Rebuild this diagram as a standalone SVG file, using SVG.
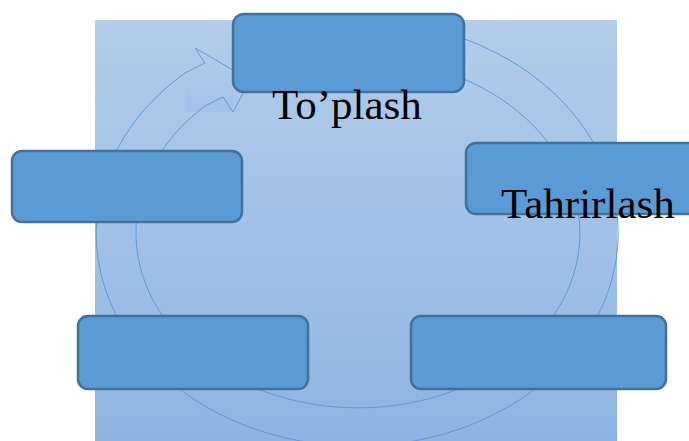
<svg xmlns="http://www.w3.org/2000/svg" width="689" height="441" viewBox="0 0 689 441">
  <defs>
    <linearGradient id="bg" x1="0" y1="0" x2="0" y2="1">
      <stop offset="0" stop-color="#b3cdea"/>
      <stop offset="1" stop-color="#8fb4e2"/>
    </linearGradient>
    <linearGradient id="patch" x1="0" y1="0" x2="0" y2="1">
      <stop offset="0" stop-color="#adc9ea"/>
      <stop offset="1" stop-color="#9fc0e7"/>
    </linearGradient>
    <style>
      .box { fill: #5b9bd5; stroke: #41719c; stroke-width: 2.5; }
      .ring { fill: none; stroke: #5b9bd5; stroke-width: 1; stroke-linejoin: miter; }
      .lbl { font-family: "Liberation Serif", "Times New Roman", serif; font-size: 43px; fill: #000; }
    </style>
  </defs>

  <rect x="95" y="20" width="522" height="421" fill="url(#bg)"/>

  <g id="connectors">
    <rect x="185" y="74" width="48" height="38" fill="url(#patch)" opacity="0.7"/>
    <path class="ring" d="M 250 80 L 195 48 L 205 63 L 185 73 A 261 213 0 1 0 400 23 L 400 61 A 222 175 0 1 1 205 106 L 223 97 L 233 112 Z"/>
  </g>

  <g id="node-top">
    <rect class="box" x="233" y="14" width="231" height="78" rx="11"/>
  </g>
  <g id="node-left">
    <rect class="box" x="12" y="151" width="230" height="71" rx="10"/>
  </g>
  <g id="node-right">
    <rect class="box" x="466" y="143" width="240" height="71" rx="10"/>
  </g>
  <g id="node-bottom-left">
    <rect class="box" x="78" y="316" width="230" height="73" rx="10"/>
  </g>
  <g id="node-bottom-right">
    <rect class="box" x="411" y="316" width="255" height="73" rx="10"/>
  </g>

  <text class="lbl" x="272" y="119">To’plash</text>
  <text class="lbl" x="501" y="218">Tahrirlash</text>
</svg>
